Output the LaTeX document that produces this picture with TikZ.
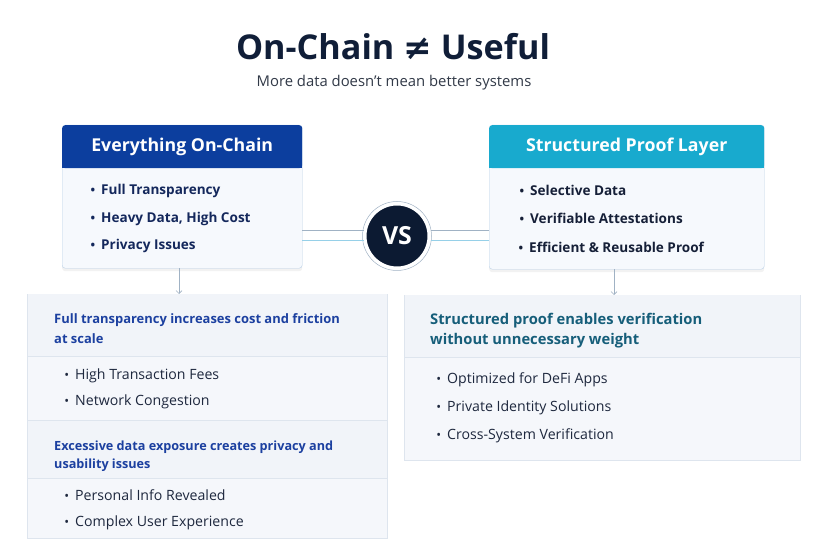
\documentclass[tikz,border=0pt]{standalone}
\usepackage{fontspec}
\setmainfont{Open Sans}
\newfontfamily\symfont{DejaVu Sans}
\usetikzlibrary{arrows.meta, positioning, calc, shadows}
\definecolor{titlenavy}{RGB}{16, 30, 56}
\definecolor{subgray}{RGB}{50, 58, 72}
\definecolor{chainblue}{RGB}{12, 62, 158}
\definecolor{proofteal}{RGB}{24, 170, 206}
\definecolor{boxfill}{RGB}{246, 249, 253}
\definecolor{boxline}{RGB}{188, 210, 232}
\definecolor{panelfill}{RGB}{245, 247, 251}
\definecolor{headfill}{RGB}{241, 244, 249}
\definecolor{panelline}{RGB}{222, 229, 238}
\definecolor{itemnavy}{RGB}{20, 40, 92}
\definecolor{itemdark}{RGB}{22, 32, 56}
\definecolor{bodytext}{RGB}{30, 40, 62}
\definecolor{leadblue}{RGB}{28, 64, 160}
\definecolor{leadteal}{RGB}{22, 94, 122}
\definecolor{vsnavy}{RGB}{12, 26, 50}
\definecolor{linkgray}{RGB}{160, 178, 196}
\definecolor{linkblue}{RGB}{150, 208, 232}
\newcommand{\bul}{\llap{\scalebox{0.9}{\textbullet}\hspace{6pt}}}
\tikzset{
  cardbox/.style={draw=boxline, fill=boxfill, rounded corners=3, inner sep=0pt,
    drop shadow={opacity=0.10, shadow xshift=0pt, shadow yshift=-3pt}},
  cardhead/.style={rounded corners=3, inner sep=0pt, text=white,
    font=\bfseries\fontsize{17.8}{20}\selectfont},
  panel/.style={draw=panelline, fill=panelfill, inner sep=0pt},
  topitem/.style={anchor=base west, inner sep=0pt, text=itemnavy,
    font=\bfseries\fontsize{13.6}{16}\selectfont},
  leadtext/.style={anchor=base west, inner sep=0pt, align=left,
    font=\bfseries\fontsize{13}{20}\selectfont},
  item/.style={anchor=base west, inner sep=0pt, text=bodytext,
    font=\fontsize{14.2}{16}\selectfont},
  link/.style={line width=0.8pt},
  drop/.style={linkgray, line width=0.6pt, -{Straight Barb[length=3pt]}}
}
\begin{document}
\begin{tikzpicture}[x=1bp, y=-1bp]
  \useasboundingbox[fill=white] (0,0) rectangle (828,552);
  % title
  \node[text=titlenavy, font=\bfseries\fontsize{34.3}{38}\selectfont] (title) at (393,47)
    {On-Chain {\symfont\bfseries ≠} Useful};
  \node[text=subgray, font=\fontsize{14.9}{17}\selectfont] (subtitle) at (394,83)
    {More data doesn’t mean better systems};

  % the two cards
  \node[cardbox, anchor=north west, minimum width=240bp, minimum height=143bp] (chainbox) at (62,125) {};
  \node[cardhead, fill=chainblue, anchor=north west, minimum width=240bp, minimum height=43bp] (chainhd) at (62,125) {Everything On-Chain};
  \fill[chainblue] (62,160) rectangle (302,168);
  \node[cardbox, anchor=north west, minimum width=275bp, minimum height=144bp] (proofbox) at (489,125) {};
  \node[cardhead, fill=proofteal, anchor=north west, minimum width=275bp, minimum height=43bp] (proofhd) at (489,125) {Structured Proof Layer};
  \fill[proofteal] (489,160) rectangle (764,168);

  \node[topitem] (chain1) at (101,195) {\bul Full Transparency};
  \node[topitem] (chain2) at (101,223) {\bul Heavy Data, High Cost};
  \node[topitem] (chain3) at (101,250) {\bul Privacy Issues};
  \node[topitem, text=itemdark] (proof1) at (530,196) {\bul Selective Data};
  \node[topitem, text=itemdark] (proof2) at (530,224) {\bul Verifiable Attestations};
  \node[topitem, text=itemdark] (proof3) at (529,253) {\bul Efficient \& Reusable Proof};

  % vs badge
  \node[circle, fill=vsnavy, draw=white, line width=3pt, minimum size=64bp, inner sep=0pt,
    text=white, font=\bfseries\fontsize{25}{25}\selectfont] (vs) at (397,236) {VS};
  \draw[linkgray, line width=0.5pt] (vs) circle (34.5bp);
  \draw[link, linkgray] (chainbox.east |- 0,230) -- (vs.west |- 0,230);
  \draw[link, linkblue] (chainbox.east |- 0,240) -- (vs.west |- 0,240);
  \draw[link, linkgray] (vs.east |- 0,230) -- (proofbox.west |- 0,230);
  \draw[link, linkblue] (vs.east |- 0,240) -- (proofbox.west |- 0,240);

  % bottom panels
  \node[panel, anchor=north west, minimum width=360bp, minimum height=244bp] (costpanel) at (27,294) {};
  \fill[headfill] (27.5,294.5) rectangle (386.5,356);
  \fill[headfill] (27.5,420) rectangle (386.5,478);
  \draw[panelline] (27,356) -- (387,356);
  \draw[panelline] (27,420) -- (387,420);
  \draw[panelline] (27,478) -- (387,478);
  \node[panel, anchor=north west, minimum width=396bp, minimum height=165bp] (gainpanel) at (404,295) {};
  \fill[headfill] (404.5,295.5) rectangle (799.5,357);
  \draw[panelline] (404,357) -- (800,357);

  \node[leadtext, text=leadblue] (costlead) at (54,343)
    {Full transparency increases cost and friction\\at scale};
  \node[item] (cost1) at (75,379) {\bul High Transaction Fees};
  \node[item] (cost2) at (75,405) {\bul Network Congestion};
  \node[leadtext, text=leadblue, font=\bfseries\fontsize{12.7}{18}\selectfont] (privlead) at (54,468)
    {Excessive data exposure creates privacy and\\usability issues};
  \node[item] (priv1) at (75,500) {\bul Personal Info Revealed};
  \node[item] (priv2) at (75,526) {\bul Complex User Experience};

  \node[leadtext, text=leadteal, font=\bfseries\fontsize{14.8}{20}\selectfont] (gainlead) at (430,344)
    {Structured proof enables verification\\without unnecessary weight};
  \node[item] (gain1) at (447,383) {\bul Optimized for DeFi Apps};
  \node[item] (gain2) at (447,411) {\bul Private Identity Solutions};
  \node[item] (gain3) at (447,439) {\bul Cross-System Verification};

  \draw[drop] (chainbox.south -| 179,0) -- (costpanel.north -| 179,0);
  \draw[drop] (proofbox.south -| 614,0) -- (gainpanel.north -| 614,0);
\end{tikzpicture}
\end{document}
